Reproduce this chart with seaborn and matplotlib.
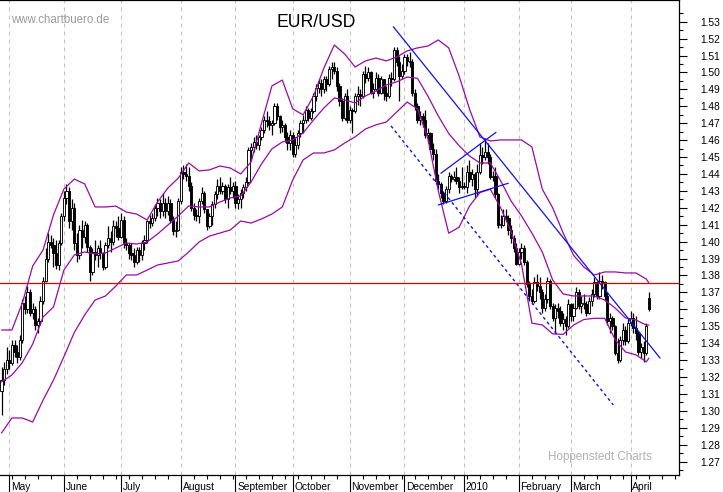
import matplotlib
matplotlib.use("Agg")
import matplotlib.pyplot as plt
import seaborn as sns
import numpy as np
import pandas as pd

# daily EUR/USD bars, one per weekday from 28 Apr 2009 to 12 Apr 2010
opens = [
    1.3120, 1.3180, 1.3250, 1.3300, 1.3280, 1.3390, 1.3350, 1.3320, 1.3420, 1.3640,
    1.3600, 1.3700, 1.3580, 1.3600, 1.3510, 1.3530, 1.3650, 1.3770, 1.3900, 1.4000,
    1.3980, 1.3930, 1.3860, 1.3990, 1.4150, 1.4260, 1.4300, 1.4120, 1.4200, 1.3990,
    1.3920, 1.4070, 1.4030, 1.4100, 1.3970, 1.3820, 1.3940, 1.3920, 1.3960, 1.3930,
    1.3850, 1.3980, 1.4020, 1.4000, 1.4090, 1.4080, 1.4030, 1.4130, 1.3990, 1.3980,
    1.3930, 1.3920, 1.3880, 1.3950, 1.3920, 1.3990, 1.4010, 1.4120, 1.4110, 1.4140,
    1.4200, 1.4230, 1.4180, 1.4230, 1.4180, 1.4230, 1.4130, 1.4060, 1.4070, 1.4240,
    1.4410, 1.4400, 1.4390, 1.4330, 1.4200, 1.4160, 1.4150, 1.4240, 1.4290, 1.4190,
    1.4090, 1.4150, 1.4220, 1.4280, 1.4330, 1.4300, 1.4330, 1.4250, 1.4320, 1.4300,
    1.4330, 1.4230, 1.4250, 1.4290, 1.4320, 1.4350, 1.4540, 1.4560, 1.4590, 1.4570,
    1.4620, 1.4660, 1.4720, 1.4710, 1.4690, 1.4700, 1.4800, 1.4740, 1.4680, 1.4690,
    1.4620, 1.4580, 1.4630, 1.4520, 1.4570, 1.4640, 1.4700, 1.4720, 1.4780, 1.4730,
    1.4770, 1.4860, 1.4910, 1.4940, 1.4900, 1.4960, 1.4930, 1.5020, 1.5030, 1.5010,
    1.4920, 1.4830, 1.4730, 1.4860, 1.4720, 1.4780, 1.4770, 1.4860, 1.4870, 1.4860,
    1.4990, 1.4970, 1.5000, 1.4880, 1.4900, 1.4970, 1.4880, 1.4960, 1.4880, 1.4860,
    1.4970, 1.4960, 1.5130, 1.5060, 1.4980, 1.5010, 1.5090, 1.5070, 1.5060, 1.4880,
    1.4800, 1.4720, 1.4740, 1.4720, 1.4630, 1.4640, 1.4550, 1.4520, 1.4360, 1.4340,
    1.4290, 1.4240, 1.4310, 1.4390, 1.4370, 1.4380, 1.4360, 1.4320, 1.4330, 1.4320,
    1.4410, 1.4370, 1.4400, 1.4310, 1.4410, 1.4510, 1.4500, 1.4530, 1.4500, 1.4380,
    1.4390, 1.4280, 1.4100, 1.4100, 1.4150, 1.4140, 1.4070, 1.4020, 1.3960, 1.3870,
    1.3940, 1.3960, 1.3880, 1.3750, 1.3680, 1.3650, 1.3760, 1.3740, 1.3700, 1.3610,
    1.3660, 1.3770, 1.3620, 1.3550, 1.3610, 1.3590, 1.3520, 1.3540, 1.3500, 1.3630,
    1.3560, 1.3610, 1.3700, 1.3620, 1.3640, 1.3630, 1.3580, 1.3650, 1.3690, 1.3760,
    1.3680, 1.3770, 1.3760, 1.3680, 1.3530, 1.3550, 1.3500, 1.3340, 1.3300, 1.3420,
    1.3480, 1.3410, 1.3520, 1.3550, 1.3490, 1.3460, 1.3350, 1.3380, 1.3340, 1.3665,
]
highs = [
    1.3260, 1.3290, 1.3380, 1.3360, 1.3420, 1.3420, 1.3390, 1.3450, 1.3660, 1.3680,
    1.3740, 1.3720, 1.3640, 1.3620, 1.3550, 1.3680, 1.3790, 1.3960, 1.4050, 1.4040,
    1.4020, 1.4010, 1.4010, 1.4170, 1.4300, 1.4340, 1.4320, 1.4250, 1.4230, 1.4050,
    1.4100, 1.4130, 1.4120, 1.4110, 1.3980, 1.3960, 1.4010, 1.3980, 1.4010, 1.3940,
    1.4000, 1.4090, 1.4060, 1.4130, 1.4120, 1.4150, 1.4170, 1.4150, 1.4020, 1.3990,
    1.3990, 1.3960, 1.3970, 1.3970, 1.4010, 1.4040, 1.4130, 1.4160, 1.4170, 1.4220,
    1.4260, 1.4250, 1.4290, 1.4260, 1.4270, 1.4250, 1.4150, 1.4120, 1.4260, 1.4440,
    1.4450, 1.4460, 1.4440, 1.4350, 1.4230, 1.4190, 1.4260, 1.4320, 1.4300, 1.4190,
    1.4170, 1.4240, 1.4300, 1.4370, 1.4380, 1.4350, 1.4340, 1.4340, 1.4380, 1.4350,
    1.4360, 1.4280, 1.4310, 1.4340, 1.4380, 1.4560, 1.4580, 1.4620, 1.4630, 1.4630,
    1.4680, 1.4740, 1.4770, 1.4740, 1.4720, 1.4820, 1.4820, 1.4750, 1.4720, 1.4700,
    1.4650, 1.4660, 1.4650, 1.4620, 1.4660, 1.4720, 1.4750, 1.4800, 1.4790, 1.4790,
    1.4880, 1.4930, 1.4960, 1.4960, 1.4980, 1.4980, 1.5040, 1.5060, 1.5060, 1.5030,
    1.4940, 1.4850, 1.4880, 1.4900, 1.4800, 1.4790, 1.4880, 1.4920, 1.4900, 1.5010,
    1.5040, 1.5030, 1.5010, 1.4940, 1.5000, 1.4990, 1.4980, 1.4960, 1.4920, 1.4990,
    1.5000, 1.5150, 1.5150, 1.5100, 1.5050, 1.5110, 1.5110, 1.5120, 1.5080, 1.4900,
    1.4820, 1.4770, 1.4760, 1.4780, 1.4670, 1.4650, 1.4580, 1.4550, 1.4400, 1.4350,
    1.4300, 1.4330, 1.4410, 1.4400, 1.4420, 1.4440, 1.4380, 1.4440, 1.4350, 1.4450,
    1.4480, 1.4430, 1.4410, 1.4460, 1.4580, 1.4560, 1.4610, 1.4580, 1.4520, 1.4420,
    1.4440, 1.4290, 1.4160, 1.4190, 1.4190, 1.4160, 1.4100, 1.4040, 1.3990, 1.3960,
    1.3990, 1.3980, 1.3890, 1.3770, 1.3720, 1.3790, 1.3810, 1.3790, 1.3720, 1.3690,
    1.3790, 1.3780, 1.3640, 1.3630, 1.3640, 1.3620, 1.3580, 1.3560, 1.3660, 1.3640,
    1.3640, 1.3730, 1.3720, 1.3680, 1.3690, 1.3650, 1.3670, 1.3720, 1.3790, 1.3770,
    1.3820, 1.3800, 1.3770, 1.3700, 1.3580, 1.3560, 1.3510, 1.3430, 1.3440, 1.3520,
    1.3500, 1.3550, 1.3590, 1.3580, 1.3560, 1.3470, 1.3400, 1.3410, 1.3520, 1.3700,
]
lows = [
    1.2975, 1.3150, 1.3220, 1.3250, 1.3270, 1.3320, 1.3280, 1.3300, 1.3400, 1.3570,
    1.3580, 1.3560, 1.3540, 1.3480, 1.3460, 1.3510, 1.3630, 1.3760, 1.3880, 1.3960,
    1.3850, 1.3840, 1.3830, 1.3980, 1.4120, 1.4220, 1.4080, 1.4070, 1.3950, 1.3880,
    1.3900, 1.3960, 1.3990, 1.3940, 1.3765, 1.3800, 1.3890, 1.3850, 1.3900, 1.3830,
    1.3840, 1.3960, 1.3940, 1.3980, 1.4030, 1.4010, 1.4020, 1.3960, 1.3950, 1.3900,
    1.3890, 1.3850, 1.3870, 1.3880, 1.3890, 1.3950, 1.3990, 1.4080, 1.4090, 1.4120,
    1.4150, 1.4140, 1.4150, 1.4140, 1.4160, 1.4110, 1.4040, 1.4030, 1.4060, 1.4220,
    1.4370, 1.4360, 1.4300, 1.4180, 1.4130, 1.4120, 1.4110, 1.4220, 1.4170, 1.4070,
    1.4080, 1.4100, 1.4200, 1.4250, 1.4280, 1.4280, 1.4230, 1.4200, 1.4280, 1.4260,
    1.4200, 1.4190, 1.4200, 1.4260, 1.4300, 1.4340, 1.4490, 1.4530, 1.4550, 1.4540,
    1.4600, 1.4640, 1.4680, 1.4660, 1.4630, 1.4690, 1.4720, 1.4640, 1.4650, 1.4590,
    1.4540, 1.4540, 1.4500, 1.4500, 1.4550, 1.4620, 1.4640, 1.4700, 1.4710, 1.4720,
    1.4760, 1.4830, 1.4880, 1.4860, 1.4880, 1.4890, 1.4920, 1.4960, 1.4990, 1.4890,
    1.4800, 1.4710, 1.4720, 1.4700, 1.4700, 1.4640, 1.4760, 1.4810, 1.4800, 1.4850,
    1.4940, 1.4950, 1.4870, 1.4850, 1.4890, 1.4860, 1.4870, 1.4840, 1.4830, 1.4850,
    1.4920, 1.4950, 1.5040, 1.4830, 1.4960, 1.4990, 1.5040, 1.5030, 1.4860, 1.4780,
    1.4700, 1.4690, 1.4680, 1.4610, 1.4580, 1.4540, 1.4480, 1.4340, 1.4310, 1.4260,
    1.4220, 1.4230, 1.4290, 1.4350, 1.4360, 1.4340, 1.4290, 1.4310, 1.4310, 1.4290,
    1.4350, 1.4330, 1.4260, 1.4270, 1.4400, 1.4460, 1.4480, 1.4460, 1.4370, 1.4360,
    1.4260, 1.4080, 1.4080, 1.4090, 1.4120, 1.4040, 1.3990, 1.3940, 1.3860, 1.3860,
    1.3900, 1.3860, 1.3730, 1.3650, 1.3630, 1.3640, 1.3710, 1.3660, 1.3580, 1.3590,
    1.3640, 1.3600, 1.3530, 1.3460, 1.3550, 1.3500, 1.3480, 1.3450, 1.3490, 1.3530,
    1.3530, 1.3600, 1.3600, 1.3580, 1.3600, 1.3560, 1.3570, 1.3620, 1.3670, 1.3660,
    1.3660, 1.3720, 1.3650, 1.3510, 1.3460, 1.3480, 1.3330, 1.3280, 1.3290, 1.3390,
    1.3390, 1.3400, 1.3500, 1.3460, 1.3420, 1.3330, 1.3310, 1.3290, 1.3330, 1.3590,
]
closes = [
    1.3180, 1.3250, 1.3300, 1.3280, 1.3390, 1.3350, 1.3320, 1.3420, 1.3640, 1.3600,
    1.3700, 1.3580, 1.3600, 1.3510, 1.3530, 1.3650, 1.3770, 1.3900, 1.4000, 1.3980,
    1.3930, 1.3860, 1.3990, 1.4150, 1.4260, 1.4300, 1.4120, 1.4200, 1.3990, 1.3920,
    1.4070, 1.4030, 1.4100, 1.3970, 1.3820, 1.3940, 1.3920, 1.3960, 1.3930, 1.3850,
    1.3980, 1.4020, 1.4000, 1.4090, 1.4080, 1.4030, 1.4130, 1.3990, 1.3980, 1.3930,
    1.3920, 1.3880, 1.3950, 1.3920, 1.3990, 1.4010, 1.4120, 1.4110, 1.4140, 1.4200,
    1.4230, 1.4180, 1.4230, 1.4180, 1.4230, 1.4130, 1.4060, 1.4070, 1.4240, 1.4410,
    1.4400, 1.4390, 1.4330, 1.4200, 1.4160, 1.4150, 1.4240, 1.4290, 1.4190, 1.4090,
    1.4150, 1.4220, 1.4280, 1.4330, 1.4300, 1.4330, 1.4250, 1.4320, 1.4300, 1.4330,
    1.4230, 1.4250, 1.4290, 1.4320, 1.4350, 1.4540, 1.4560, 1.4590, 1.4570, 1.4620,
    1.4660, 1.4720, 1.4710, 1.4690, 1.4700, 1.4800, 1.4740, 1.4680, 1.4690, 1.4620,
    1.4580, 1.4630, 1.4520, 1.4570, 1.4640, 1.4700, 1.4720, 1.4780, 1.4730, 1.4770,
    1.4860, 1.4910, 1.4940, 1.4900, 1.4960, 1.4930, 1.5020, 1.5030, 1.5010, 1.4920,
    1.4830, 1.4730, 1.4860, 1.4720, 1.4780, 1.4770, 1.4860, 1.4870, 1.4860, 1.4990,
    1.4970, 1.5000, 1.4880, 1.4900, 1.4970, 1.4880, 1.4960, 1.4880, 1.4860, 1.4970,
    1.4960, 1.5130, 1.5060, 1.4980, 1.5010, 1.5090, 1.5070, 1.5060, 1.4880, 1.4800,
    1.4720, 1.4740, 1.4720, 1.4630, 1.4640, 1.4550, 1.4520, 1.4360, 1.4340, 1.4290,
    1.4240, 1.4310, 1.4390, 1.4370, 1.4380, 1.4360, 1.4320, 1.4330, 1.4320, 1.4410,
    1.4370, 1.4400, 1.4310, 1.4410, 1.4510, 1.4500, 1.4530, 1.4500, 1.4380, 1.4390,
    1.4280, 1.4100, 1.4100, 1.4150, 1.4140, 1.4070, 1.4020, 1.3960, 1.3870, 1.3940,
    1.3960, 1.3880, 1.3750, 1.3680, 1.3650, 1.3760, 1.3740, 1.3700, 1.3610, 1.3660,
    1.3770, 1.3620, 1.3550, 1.3610, 1.3590, 1.3520, 1.3540, 1.3500, 1.3630, 1.3560,
    1.3610, 1.3700, 1.3620, 1.3640, 1.3630, 1.3580, 1.3650, 1.3690, 1.3760, 1.3680,
    1.3770, 1.3760, 1.3680, 1.3530, 1.3550, 1.3500, 1.3340, 1.3300, 1.3420, 1.3480,
    1.3410, 1.3520, 1.3550, 1.3490, 1.3460, 1.3350, 1.3380, 1.3340, 1.3500, 1.3600,
]

# Bollinger bands every fourth bar (bar numbers)
band_idx = list(range(0, 249, 4)) + [249]
upper_band = [
    1.3478, 1.3478, 1.3637, 1.3856, 1.3951, 1.4158, 1.4311, 1.4370, 1.4341, 1.4205,
    1.4205, 1.4210, 1.4175, 1.4163, 1.4128, 1.4234, 1.4317, 1.4376, 1.4465, 1.4418,
    1.4424, 1.4447, 1.4435, 1.4400, 1.4471, 1.4700, 1.4920, 1.4955, 1.4785, 1.4749,
    1.4861, 1.5026, 1.5162, 1.5109, 1.5032, 1.5068, 1.5085, 1.5068, 1.5091, 1.5127,
    1.5145, 1.5156, 1.5192, 1.5145, 1.4979, 1.4784, 1.4619, 1.4595, 1.4601, 1.4601,
    1.4601, 1.4560, 1.4310, 1.4200, 1.4052, 1.3920, 1.3850, 1.3803, 1.3821, 1.3821,
    1.3815, 1.3815, 1.3779, 1.3756,
]
middle_band = [
    1.3171, 1.3212, 1.3285, 1.3395, 1.3555, 1.3614, 1.3832, 1.3921, 1.3939, 1.3927,
    1.3933, 1.3963, 1.3992, 1.3986, 1.3998, 1.4045, 1.4098, 1.4152, 1.4211, 1.4205,
    1.4205, 1.4234, 1.4258, 1.4270, 1.4353, 1.4459, 1.4548, 1.4589, 1.4601, 1.4642,
    1.4719, 1.4790, 1.4849, 1.4837, 1.4820, 1.4861, 1.4890, 1.4926, 1.4944, 1.4973,
    1.4965, 1.4860, 1.4743, 1.4639, 1.4567, 1.4506, 1.4465, 1.4465, 1.4359, 1.4240,
    1.4152, 1.4051, 1.3939, 1.3773, 1.3691, 1.3679, 1.3679, 1.3679, 1.3655, 1.3608,
    1.3549, 1.3537, 1.3507, 1.3507,
]
lower_band = [
    1.2869, 1.2958, 1.2958, 1.2934, 1.3064, 1.3182, 1.3320, 1.3463, 1.3567, 1.3655,
    1.3679, 1.3738, 1.3803, 1.3803, 1.3832, 1.3862, 1.3874, 1.3886, 1.3939, 1.3998,
    1.4033, 1.4051, 1.4069, 1.4122, 1.4110, 1.4134, 1.4163, 1.4205, 1.4364, 1.4483,
    1.4524, 1.4524, 1.4542, 1.4583, 1.4619, 1.4666, 1.4690, 1.4707, 1.4766, 1.4825,
    1.4785, 1.4610, 1.4300, 1.4050, 1.4085, 1.4210, 1.4290, 1.4310, 1.4200, 1.4060,
    1.3868, 1.3518, 1.3508, 1.3455, 1.3452, 1.3507, 1.3540, 1.3547, 1.3547, 1.3422,
    1.3348, 1.3331, 1.3290, 1.3311,
]

# hand-drawn trend lines (bar number, price)
down_line_x = [150.7, 253.3]
down_line_y = [1.5270, 1.3312]
channel_line_x = [149.8, 235.3]
channel_line_y = [1.4684, 1.3035]
wedge_top_x = [169.0, 190.2]
wedge_top_y = [1.4404, 1.4646]
wedge_bottom_x = [168.0, 194.9]
wedge_bottom_y = [1.4217, 1.4345]
support_level = 1.3754

month_labels = ["May", "June", "July", "August", "September", "October",
                "November", "December", "2010", "February", "March", "April"]

sns.set_style("white")
plt.rcParams["font.family"] = ["Liberation Sans", "DejaVu Sans"]
plt.rcParams["text.color"] = "black"
plt.rcParams["xtick.color"] = "black"
plt.rcParams["ytick.color"] = "black"

days = pd.bdate_range("2009-04-28", "2010-04-12")
tick_days = pd.bdate_range("2009-04-28", "2010-04-30")
pos = np.arange(len(days))
month_pos = [i for i in range(1, len(days)) if days[i].month != days[i - 1].month]
monday_pos = np.where(tick_days.weekday == 0)[0]

fig = plt.figure(figsize=(7.23, 4.92), dpi=100)
ax = fig.add_axes([0, 17 / 492, 679 / 723, 475 / 492])
ax.set_xlim(-0.577, 260.58)
ax.set_ylim(1.2621, 1.5428)

# month grid
for mp in month_pos:
    ax.axvline(mp, color="#c4c4c4", linewidth=0.8, linestyle=(0, (3.6, 3.6)), zorder=0)

# candles
o, h, l, c = (np.array(a) for a in (opens, highs, lows, closes))
ax.vlines(pos, l, h, colors="black", linewidth=0.9, zorder=2)
body_lo = np.minimum(o, c)
body_h = np.maximum(np.abs(c - o), 0.0004)
ax.bar(pos, body_h, bottom=body_lo, width=0.85,
       color=np.where(c >= o, "white", "black"), edgecolor="black",
       linewidth=0.65, zorder=3)

# Bollinger bands
purple = "#9b0aa6"
for band in (upper_band, middle_band, lower_band):
    sns.lineplot(x=band_idx, y=band, ax=ax, color=purple, linewidth=0.9, zorder=4)

# trend lines
blue = "#1010f0"
ax.plot(down_line_x, down_line_y, color=blue, linewidth=0.9, zorder=5)
ax.plot(wedge_top_x, wedge_top_y, color=blue, linewidth=0.9, zorder=5)
ax.plot(wedge_bottom_x, wedge_bottom_y, color=blue, linewidth=0.9, zorder=5)
ax.plot(channel_line_x, channel_line_y, color=blue, linewidth=1.0,
        linestyle=(0, (2.2, 2.2)), zorder=5)
ax.axhline(support_level, color="#d80000", linewidth=0.9, zorder=5)

# axes frame
for side in ("top", "right", "bottom"):
    ax.spines[side].set_visible(True)
    ax.spines[side].set_color("black")
    ax.spines[side].set_linewidth(0.9)
ax.spines["left"].set_visible(False)

# y axis on the right
ax.yaxis.tick_right()
yt = np.round(np.arange(1.27, 1.5301, 0.01), 2)
ax.set_yticks(yt)
ax.set_yticklabels([f"{v:.2f}" for v in yt])
ax.set_yticks(np.round(np.arange(1.265, 1.541, 0.01), 3), minor=True)
ax.tick_params(axis="y", which="major", right=True, left=False, direction="out",
               length=6, width=0.8, pad=9, labelsize=7.4)
ax.tick_params(axis="y", which="minor", right=True, left=False, direction="out",
               length=3, width=0.8)

# x axis: month starts and weekly ticks
ax.set_xticks(month_pos)
ax.set_xticklabels([])
ax.set_xticks(monday_pos, minor=True)
ax.tick_params(axis="x", which="major", bottom=True, direction="out",
               length=12.3, width=0.8)
ax.tick_params(axis="x", which="minor", bottom=True, direction="out",
               length=3, width=0.8)
for mp, lab in zip(month_pos, month_labels):
    ax.text(mp + 0.65, -0.0316, lab, transform=ax.get_xaxis_transform(),
            ha="left", va="baseline", fontsize=7.4)

ax.set_xlabel("")
ax.set_ylabel("")

fig.text(10.7 / 723, 1 - 23.3 / 492, "www.chartbuero.de", fontsize=8.3,
         color="#9a9a9a", ha="left", va="baseline")
fig.text(316 / 723, 1 - 26.7 / 492, "EUR/USD", fontsize=12.7,
         ha="center", va="baseline")
fig.text(548.3 / 723, 1 - 460 / 492, "Hoppenstedt Charts", fontsize=8.4,
         color="#b0b0b0", ha="left", va="baseline")

fig.savefig("out.png", dpi=100)
